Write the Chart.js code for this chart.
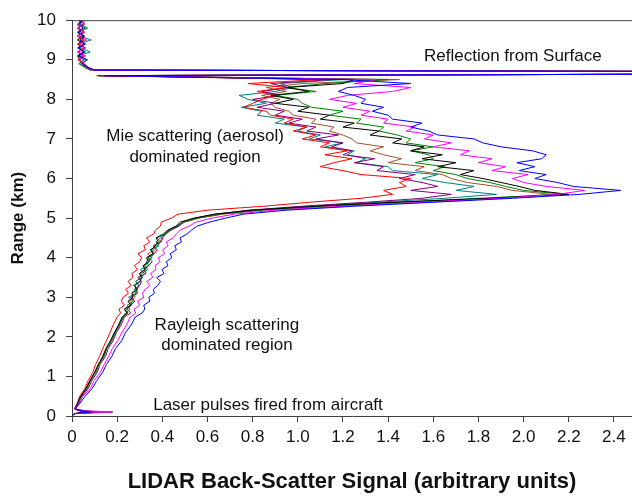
<!DOCTYPE html>
<html>
<head>
<meta charset="utf-8">
<script src="https://cdn.jsdelivr.net/npm/chart.js@4.4.1/dist/chart.umd.min.js"></script>
<style>
  body { margin: 0; background: #fff; }
  canvas { display: block; }
</style>
</head>
<body>
<canvas id="lidarChart" width="632" height="496"></canvas>
<script>
// range levels (km), shared by every profile
const rangeKm = [
  0, 0.06, 0.1, 0.13, 0.18, 0.3, 0.5, 0.7, 0.9, 1.1, 1.3, 1.5, 1.7, 1.9, 2.1, 2.3, 2.5,
  2.6, 2.7, 2.8, 2.9, 3.0, 3.1, 3.2, 3.3, 3.4, 3.5, 3.6, 3.7, 3.8, 3.9, 4.0, 4.1, 4.2, 4.3, 4.4, 4.5, 4.6, 4.7, 4.8, 4.9,
  5.0, 5.1, 5.2, 5.3, 5.4, 5.5, 5.6, 5.7, 5.8, 5.9, 6.0, 6.1, 6.2, 6.3, 6.4, 6.5, 6.6, 6.7, 6.8, 6.9,
  7.0, 7.1, 7.2, 7.3, 7.4, 7.5, 7.6, 7.7, 7.8, 7.9, 8.0, 8.1, 8.2, 8.3, 8.4, 8.5,
  8.6, 8.64, 8.7, 8.74, 8.8,
  8.9, 9.0, 9.1, 9.2, 9.3, 9.4, 9.5, 9.6, 9.7, 9.8, 9.9, 10.0
];

// back-scatter signal for each profile, one value per range level
const blue = [
  0, 0.01, 0.08, 0.04, 0.015, 0.032, 0.058, 0.09, 0.11, 0.136, 0.152, 0.176, 0.192, 0.22, 0.236, 0.262, 0.28,
  0.31, 0.322, 0.318, 0.345, 0.34, 0.365, 0.36, 0.38, 0.392, 0.375, 0.408, 0.398, 0.425, 0.418, 0.442, 0.435, 0.462, 0.455, 0.485, 0.478, 0.51, 0.53, 0.555, 0.61,
  0.68, 0.76, 0.95, 1.25, 1.6, 1.95, 2.25, 2.43, 2.22, 2.15,
  2.05, 2.1, 1.98, 2.05, 1.97, 2.08, 2.1, 2.04, 1.9, 1.82,
  1.78, 1.62, 1.58, 1.5, 1.55, 1.42, 1.4, 1.33, 1.38, 1.28,
  1.3, 1.25, 1.18, 1.22, 1.5, 1.2,
  0.14, 3, 3, 0.1, 0.07,
  0.045, 0.065, 0.03, 0.055, 0.025, 0.06, 0.035, 0.055, 0.025, 0.05, 0.035, 0.045
];
const magenta = [
  0, 0.01, 0.17, 0.05, 0.012, 0.028, 0.048, 0.082, 0.098, 0.126, 0.142, 0.162, 0.178, 0.202, 0.22, 0.242, 0.258,
  0.282, 0.275, 0.3, 0.29, 0.318, 0.312, 0.325, 0.345, 0.33, 0.358, 0.348, 0.372, 0.368, 0.39, 0.382, 0.41, 0.402, 0.425, 0.418, 0.448, 0.462, 0.48, 0.52, 0.55,
  0.62, 0.72, 0.9, 1.2, 1.55, 1.9, 2.15, 2.27, 2.1, 2.0,
  1.95, 2.02, 1.86, 1.92, 1.8, 1.86, 1.72, 1.76, 1.6, 1.68,
  1.56, 1.6, 1.48, 1.52, 1.38, 1.4, 1.28, 1.32, 1.2, 1.26,
  1.14, 1.22, 1.42, 1.5, 1.25, 1.35,
  0.13, 3, 3, 0.09, 0.065,
  0.055, 0.03, 0.06, 0.025, 0.055, 0.035, 0.065, 0.03, 0.05, 0.025, 0.055, 0.04
];
const black = [
  0, 0.01, 0.1, 0.04, 0.012, 0.023, 0.039, 0.062, 0.08, 0.1, 0.116, 0.136, 0.15, 0.17, 0.188, 0.206, 0.222,
  0.245, 0.232, 0.26, 0.248, 0.27, 0.265, 0.285, 0.278, 0.3, 0.31, 0.298, 0.322, 0.315, 0.338, 0.33, 0.358, 0.35, 0.37, 0.382, 0.372, 0.405, 0.425, 0.462, 0.48,
  0.54, 0.63, 0.8, 1.08, 1.42, 1.85, 2.2, 2.05, 1.98, 1.9,
  1.82, 1.72, 1.78, 1.62, 1.7, 1.55, 1.64, 1.5, 1.56, 1.42,
  1.46, 1.32, 1.36, 1.2, 1.25, 1.1, 1.14, 1.0, 1.05, 0.9,
  0.98, 0.88, 1.05, 0.95, 1.2, 1.25,
  0.12, 3, 3, 0.1, 0.075,
  0.05, 0.035, 0.025, 0.05, 0.03, 0.055, 0.025, 0.05, 0.04, 0.025, 0.055, 0.03
];
const red = [
  0, 0.01, 0.06, 0.03, 0.01, 0.022, 0.034, 0.058, 0.072, 0.092, 0.104, 0.122, 0.136, 0.152, 0.168, 0.182, 0.2,
  0.215, 0.208, 0.232, 0.218, 0.226, 0.25, 0.238, 0.262, 0.248, 0.27, 0.265, 0.29, 0.276, 0.3, 0.308, 0.292, 0.325, 0.318, 0.345, 0.33, 0.362, 0.37, 0.392, 0.395,
  0.44, 0.47, 0.6, 0.85, 1.05, 1.28, 1.42, 1.38, 1.48, 1.45,
  1.5, 1.28, 1.2, 1.1, 1.16, 1.24, 1.12, 1.22, 1.1, 1.14,
  1.02, 1.08, 0.98, 1.04, 0.94, 0.98, 0.88, 0.86, 0.76, 0.8,
  0.84, 0.9, 0.82, 0.95, 0.78, 1.1,
  0.12, 3, 3, 0.09, 0.065,
  0.05, 0.025, 0.055, 0.03, 0.052, 0.025, 0.05, 0.022, 0.055, 0.03, 0.05, 0.055
];
const green = [
  0, 0.01, 0.09, 0.04, 0.012, 0.024, 0.04, 0.066, 0.082, 0.106, 0.118, 0.142, 0.154, 0.176, 0.192, 0.21, 0.226,
  0.238, 0.256, 0.245, 0.272, 0.26, 0.282, 0.29, 0.272, 0.305, 0.298, 0.31, 0.335, 0.322, 0.345, 0.335, 0.365, 0.352, 0.385, 0.372, 0.392, 0.41, 0.435, 0.462, 0.495,
  0.56, 0.66, 0.82, 1.1, 1.45, 1.8, 2.18, 2.0, 1.92, 1.85,
  1.75, 1.7, 1.6, 1.65, 1.52, 1.6, 1.58, 1.5, 1.6, 1.48,
  1.5, 1.44, 1.36, 1.38, 1.26, 1.28, 1.14, 1.2, 1.06, 1.02,
  1.0, 0.9, 1.08, 0.95, 1.12, 1.4,
  0.11, 3, 3, 0.08, 0.06,
  0.03, 0.055, 0.025, 0.06, 0.035, 0.03, 0.055, 0.035, 0.025, 0.06, 0.03, 0.05
];
const purple = [
  0, 0.015, 0.18, 0.06, 0.015, 0.028, 0.044, 0.072, 0.088, 0.112, 0.124, 0.148, 0.16, 0.182, 0.196, 0.218, 0.232,
  0.26, 0.245, 0.262, 0.278, 0.262, 0.29, 0.285, 0.3, 0.308, 0.292, 0.328, 0.322, 0.34, 0.355, 0.338, 0.365, 0.378, 0.36, 0.395, 0.402, 0.415, 0.44, 0.475, 0.49,
  0.55, 0.64, 0.78, 1.02, 1.3, 1.55, 1.68, 1.5, 1.62, 1.55,
  1.45, 1.52, 1.35, 1.38, 1.25, 1.34, 1.2, 1.24, 1.15, 1.2,
  1.08, 1.18, 1.04, 1.08, 0.96, 1.02, 0.9, 0.94, 0.82, 0.9,
  0.8, 0.92, 0.84, 0.96, 0.88, 1.15,
  0.15, 3, 3, 0.1, 0.07,
  0.055, 0.035, 0.05, 0.025, 0.06, 0.03, 0.045, 0.055, 0.03, 0.05, 0.025, 0.045
];
const teal = [
  0, 0.01, 0.12, 0.045, 0.012, 0.022, 0.038, 0.064, 0.084, 0.1, 0.12, 0.136, 0.152, 0.172, 0.186, 0.208, 0.224,
  0.242, 0.232, 0.26, 0.268, 0.25, 0.285, 0.275, 0.298, 0.282, 0.308, 0.32, 0.302, 0.34, 0.328, 0.35, 0.362, 0.345, 0.38, 0.392, 0.376, 0.418, 0.432, 0.466, 0.49,
  0.55, 0.64, 0.8, 1.05, 1.35, 1.65, 1.88, 1.7, 1.78, 1.65,
  1.55, 1.62, 1.42, 1.4, 1.26, 1.3, 1.22, 1.25, 1.12, 1.2,
  1.05, 1.1, 1.0, 1.04, 0.9, 0.94, 0.82, 0.84, 0.75, 0.86,
  0.78, 0.74, 0.9, 0.98, 0.92, 1.2,
  0.12, 3, 3, 0.09, 0.065,
  0.04, 0.07, 0.03, 0.08, 0.04, 0.025, 0.085, 0.035, 0.03, 0.07, 0.04, 0.03
];
const brown = [
  0, 0.01, 0.08, 0.035, 0.012, 0.024, 0.04, 0.068, 0.08, 0.104, 0.118, 0.14, 0.152, 0.176, 0.188, 0.212, 0.226,
  0.248, 0.24, 0.262, 0.255, 0.28, 0.268, 0.29, 0.295, 0.282, 0.31, 0.302, 0.325, 0.318, 0.34, 0.355, 0.335, 0.37, 0.362, 0.39, 0.398, 0.41, 0.43, 0.472, 0.5,
  0.56, 0.67, 0.85, 1.15, 1.5, 1.85, 2.12, 1.95, 1.88, 1.75,
  1.68, 1.64, 1.52, 1.56, 1.4, 1.46, 1.38, 1.32, 1.38, 1.26,
  1.24, 1.2, 1.14, 1.16, 1.06, 1.08, 0.98, 0.96, 0.9, 0.88,
  0.92, 0.84, 0.95, 0.86, 1.02, 1.45,
  0.11, 3, 3, 0.08, 0.06,
  0.035, 0.05, 0.04, 0.025, 0.055, 0.045, 0.025, 0.04, 0.055, 0.03, 0.025, 0.05
];

const xTicks = [0, 0.2, 0.4, 0.6, 0.8, 1, 1.2, 1.4, 1.6, 1.8, 2, 2.2, 2.4];
const yTicks = [0, 1, 2, 3, 4, 5, 6, 7, 8, 9, 10];

// annotation texts placed in data units
const notes = [
  { text: 'Reflection from Surface', x: 1.559, y: 9.08, align: 'left' },
  { text: 'Mie scattering (aerosol)', x: 0.545, y: 7.075, align: 'center' },
  { text: 'dominated region', x: 0.545, y: 6.525, align: 'center' },
  { text: 'Rayleigh scattering', x: 0.686, y: 2.3, align: 'center' },
  { text: 'dominated region', x: 0.686, y: 1.775, align: 'center' },
  { text: 'Laser pulses fired from aircraft', x: 0.868, y: 0.28, align: 'center' }
];

// drawn in this order, first one on top
const profiles = [
  ['blue', blue, '#0000ff'],
  ['magenta', magenta, '#ff00ff'],
  ['black', black, '#000000'],
  ['red', red, '#ff0000'],
  ['green', green, '#008000'],
  ['purple', purple, '#800080'],
  ['teal', teal, '#008080'],
  ['brown', brown, '#a0522d']
];

const FONT = "'Liberation Sans', Arial, sans-serif";
const AXIS = '#404040';

const extras = {
  id: 'extras',
  afterDraw(chart) {
    const { ctx, chartArea, scales } = chart;
    ctx.save();
    // top frame line
    ctx.strokeStyle = AXIS;
    ctx.lineWidth = 1;
    ctx.beginPath();
    ctx.moveTo(chartArea.left, chartArea.top + 0.5);
    ctx.lineTo(chartArea.right, chartArea.top + 0.5);
    ctx.stroke();
    // annotations
    ctx.fillStyle = '#111';
    ctx.font = '17px ' + FONT;
    ctx.textBaseline = 'middle';
    notes.forEach(n => {
      ctx.textAlign = n.align;
      ctx.fillText(n.text, scales.x.getPixelForValue(n.x), scales.y.getPixelForValue(n.y));
    });
    ctx.restore();
  }
};

new Chart(document.getElementById('lidarChart'), {
  type: 'scatter',
  data: {
    datasets: profiles.map(([name, values, color]) => ({
      label: name,
      data: values.map((v, i) => ({ x: v, y: rangeKm[i] })),
      showLine: true,
      borderColor: color,
      backgroundColor: color,
      borderWidth: 1,
      pointRadius: 0,
      tension: 0
    }))
  },
  options: {
    responsive: false,
    devicePixelRatio: 1,
    animation: false,
    layout: { padding: { top: 16, right: 0, left: 0, bottom: 0 } },
    plugins: { legend: { display: false }, tooltip: { enabled: false } },
    scales: {
      x: {
        type: 'linear',
        min: 0,
        max: 2.48,
        afterBuildTicks: s => { s.ticks = xTicks.map(v => ({ value: v })); },
        afterFit: s => { s.height = 80; },
        grid: { drawOnChartArea: false, drawTicks: true, tickLength: 6, color: AXIS },
        border: { display: true, color: AXIS },
        ticks: { color: '#111', font: { family: FONT, size: 17 }, padding: 5, maxRotation: 0, autoSkip: false },
        title: {
          display: true,
          text: 'LIDAR Back-Scatter Signal (arbitrary units)',
          color: '#111',
          font: { family: FONT, size: 22, weight: 'bold' },
          padding: { top: 0, bottom: 1 }
        }
      },
      y: {
        type: 'linear',
        min: 0,
        max: 10,
        afterBuildTicks: s => { s.ticks = yTicks.map(v => ({ value: v })); },
        afterFit: s => { s.width = 72; },
        grid: { drawOnChartArea: false, drawTicks: true, tickLength: 6, color: AXIS },
        border: { display: true, color: AXIS },
        ticks: { color: '#111', font: { family: FONT, size: 17 }, padding: 10, autoSkip: false },
        title: {
          display: true,
          text: 'Range (km)',
          color: '#111',
          font: { family: FONT, size: 17, weight: 'bold' },
          padding: { top: 8, bottom: 0 }
        }
      }
    }
  },
  plugins: [extras]
});
</script>
</body>
</html>
